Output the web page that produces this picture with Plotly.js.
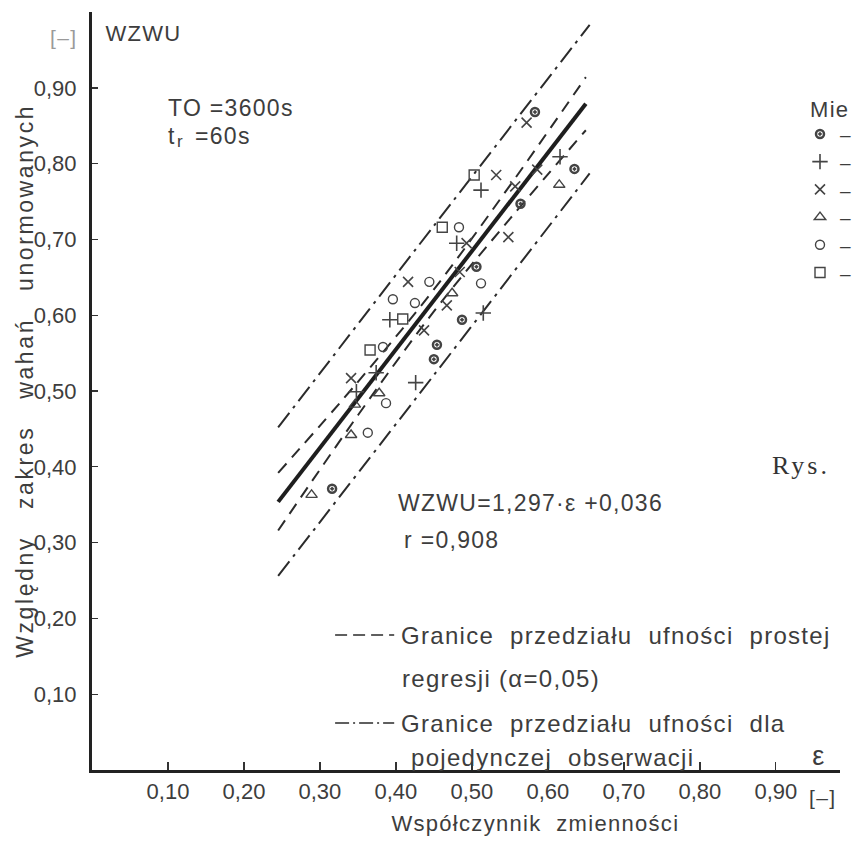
<!DOCTYPE html>
<html>
<head>
<meta charset="utf-8">
<script src="https://cdn.plot.ly/plotly-3.0.1.min.js"></script>
<style>
  html, body { margin: 0; padding: 0; background: #fff; }
  #chart { width: 856px; height: 844px; }
  /* stencil lettering is set with generous spacing */
  #chart .annotation-text { letter-spacing: 1.3px; }
</style>
</head>
<body>
<div id="chart"></div>
<script>
// Measurement series: coefficient of variation (ε) against the relative range
// of normalised fluctuations (WZWU), one pair of arrays per measuring point.
const eps1  = [0.583, 0.635, 0.564, 0.506, 0.487, 0.454, 0.450, 0.316];
const wzwu1 = [0.868, 0.793, 0.747, 0.664, 0.594, 0.561, 0.542, 0.371];

const eps2  = [0.616, 0.512, 0.480, 0.392, 0.374, 0.426, 0.515, 0.348];
const wzwu2 = [0.809, 0.765, 0.695, 0.594, 0.524, 0.511, 0.603, 0.499];

const eps3  = [0.572, 0.586, 0.557, 0.532, 0.493, 0.548, 0.416, 0.437, 0.484, 0.467, 0.341];
const wzwu3 = [0.854, 0.792, 0.770, 0.785, 0.695, 0.703, 0.644, 0.580, 0.657, 0.613, 0.517];

const eps4  = [0.615, 0.474, 0.378, 0.346, 0.341, 0.289];
const wzwu4 = [0.772, 0.629, 0.497, 0.482, 0.442, 0.363];

const eps5  = [0.483, 0.444, 0.396, 0.425, 0.383, 0.387, 0.363, 0.512];
const wzwu5 = [0.716, 0.644, 0.621, 0.616, 0.558, 0.484, 0.445, 0.642];

const eps6  = [0.503, 0.461, 0.409, 0.366];
const wzwu6 = [0.785, 0.716, 0.595, 0.554];

// Regression line WZWU = 1,297·ε + 0,036 over the measured range
const regSlope = 1.297;
const regIntercept = 0.036;
const regEps = [0.245, 0.65];
const regWzwu = regEps.map(e => regSlope * e + regIntercept);

// Confidence band of the regression line (α = 0,05)
const ciEps   = [0.245, 0.35, 0.45, 0.55, 0.65];
const ciUpper = [0.392, 0.512, 0.634, 0.771, 0.914];
const ciLower = [0.316, 0.468, 0.605, 0.727, 0.844];

// Confidence band for a single observation
const piEps   = [0.245, 0.45, 0.655];
const piUpper = [0.452, 0.718, 0.983];
const piLower = [0.256, 0.521, 0.787];

// Axis ticks (decimal comma)
const tickVals = [0.1, 0.2, 0.3, 0.4, 0.5, 0.6, 0.7, 0.8, 0.9];
const tickText = ['0,10', '0,20', '0,30', '0,40', '0,50', '0,60', '0,70', '0,80', '0,90'];

const FONT = 'Liberation Sans, Arial, sans-serif';
const SERIF = 'Liberation Serif, DejaVu Serif, serif';
const INK = '#2b2b2b';
const TXT = '#3d3d3d';
const MK = '#444444';

function pts(x, y, symbol, size, lw) {
  return {
    x: x, y: y, type: 'scatter', mode: 'markers', name: '–',
    marker: { symbol: symbol, size: size, color: MK, line: { color: MK, width: lw } },
    hoverinfo: 'skip'
  };
}
function band(x, y, dash) {
  return {
    x: x, y: y, type: 'scatter', mode: 'lines', showlegend: false,
    line: { color: INK, width: 2, dash: dash, shape: 'spline' }, hoverinfo: 'skip'
  };
}

const traces = [
  band(piEps, piUpper, '18px,6px,3px,6px'),
  band(piEps, piLower, '18px,6px,3px,6px'),
  band(ciEps, ciUpper, '12px,8px'),
  band(ciEps, ciLower, '12px,8px'),
  { x: regEps, y: regWzwu, type: 'scatter', mode: 'lines', showlegend: false,
    line: { color: '#1e1e1e', width: 4 }, hoverinfo: 'skip' },
  pts(eps1, wzwu1, 'circle-open-dot', 8, 2.5),
  pts(eps2, wzwu2, 'cross-thin-open', 11, 1.6),
  pts(eps3, wzwu3, 'x-thin-open', 10, 1.6),
  pts(eps4, wzwu4, 'triangle-up-open', 10, 1.4),
  pts(eps5, wzwu5, 'circle-open', 9, 1.4),
  pts(eps6, wzwu6, 'square-open', 10, 1.4)
];

function note(text, x, y, size, opts) {
  const a = Object.assign({
    text: text, x: x, y: y, xref: 'paper', yref: 'paper',
    xanchor: 'left', yanchor: 'middle', showarrow: false,
    font: { family: FONT, size: size, color: TXT }
  }, opts || {});
  a.align = a.xanchor;
  return a;
}

const yTitle = note('Względny\u00a0\u00a0 zakres\u00a0\u00a0 wahań\u00a0\u00a0 unormowanych', -0.09, 0.513, 23,
                    { xanchor: 'center', textangle: -90 });
const rysNote = note('Rys.', 0.907, 0.402, 26, { font: { family: SERIF, size: 26, color: '#333' } });

const annotations = [
  note('[–]', -0.038, 0.967, 21, { xanchor: 'center', font: { family: FONT, size: 21, color: '#9a9a9a' } }),
  note('WZWU', 0.069, 0.972, 22, { xanchor: 'center' }),
  note('TO =3600s', 0.0995, 0.873, 23),
  note('t', 0.0995, 0.836, 23),
  note('r', 0.1115, 0.829, 17),
  note('=60s', 0.135, 0.836, 23),
  note('WZWU=1,297·ε +0,036', 0.406, 0.352, 23),
  note('r =0,908', 0.414, 0.303, 23),
  note('Granice  przedziału  ufności  prostej', 0.411, 0.178, 24),
  note('regresji (α=0,05)', 0.412, 0.121, 24),
  note('Granice  przedziału  ufności  dla', 0.411, 0.062, 24),
  note('pojedynczej  obserwacji', 0.424, 0.016, 24),
  note('ε', 0.972, 0.018, 27, { xanchor: 'center' }),
  note('[–]', 0.977, -0.036, 21, { xanchor: 'center' }),
  note('Współczynnik  zmienności', 0.593, -0.071, 22, { xanchor: 'center' }),
  yTitle,
  note('Mie', 0.957, 0.871, 22),
  rysNote
];

const shapes = [
  { type: 'line', xref: 'paper', yref: 'paper', x0: 0.325, x1: 0.404, y0: 0.178, y1: 0.178,
    line: { color: INK, width: 1.5, dash: '12px,6px' } },
  { type: 'line', xref: 'paper', yref: 'paper', x0: 0.325, x1: 0.404, y0: 0.062, y1: 0.062,
    line: { color: INK, width: 1.5, dash: '14px,4px,2px,4px' } }
];

const axisCommon = {
  showline: true, linewidth: 3, linecolor: '#222', showgrid: false, zeroline: false,
  tickvals: tickVals, ticktext: tickText, ticks: 'inside', tickwidth: 1.4, tickcolor: '#333',
  tickfont: { family: FONT, size: 22, color: TXT }, fixedrange: true
};

const layout = {
  width: 856, height: 844,
  margin: { l: 92, r: 0, t: 12, b: 74 },
  paper_bgcolor: '#fff', plot_bgcolor: '#fff',
  font: { family: FONT, color: TXT },
  xaxis: Object.assign({}, axisCommon, { range: [0, 0.9845], ticklen: 8 }),
  yaxis: Object.assign({}, axisCommon, { range: [0, 1], ticklen: 6, ticklabelstandoff: 8 }),
  showlegend: true,
  legend: {
    x: 0.947, xanchor: 'left', y: 0.864, yanchor: 'top',
    bgcolor: 'rgba(0,0,0,0)', borderwidth: 0,
    font: { family: FONT, size: 19, color: TXT }, itemwidth: 30, traceorder: 'normal'
  },
  annotations: annotations,
  shapes: shapes
};

// wider spacing for the rotated axis caption and the serif figure label
const extraCss = document.createElement('style');
extraCss.textContent =
  '#chart .annotation[data-index="' + annotations.indexOf(yTitle) + '"] .annotation-text{letter-spacing:2.6px}' +
  '#chart .annotation[data-index="' + annotations.indexOf(rysNote) + '"] .annotation-text{letter-spacing:3px;font-weight:bold}';
document.head.appendChild(extraCss);

Plotly.newPlot('chart', traces, layout, { staticPlot: true, displayModeBar: false });
</script>
</body>
</html>
